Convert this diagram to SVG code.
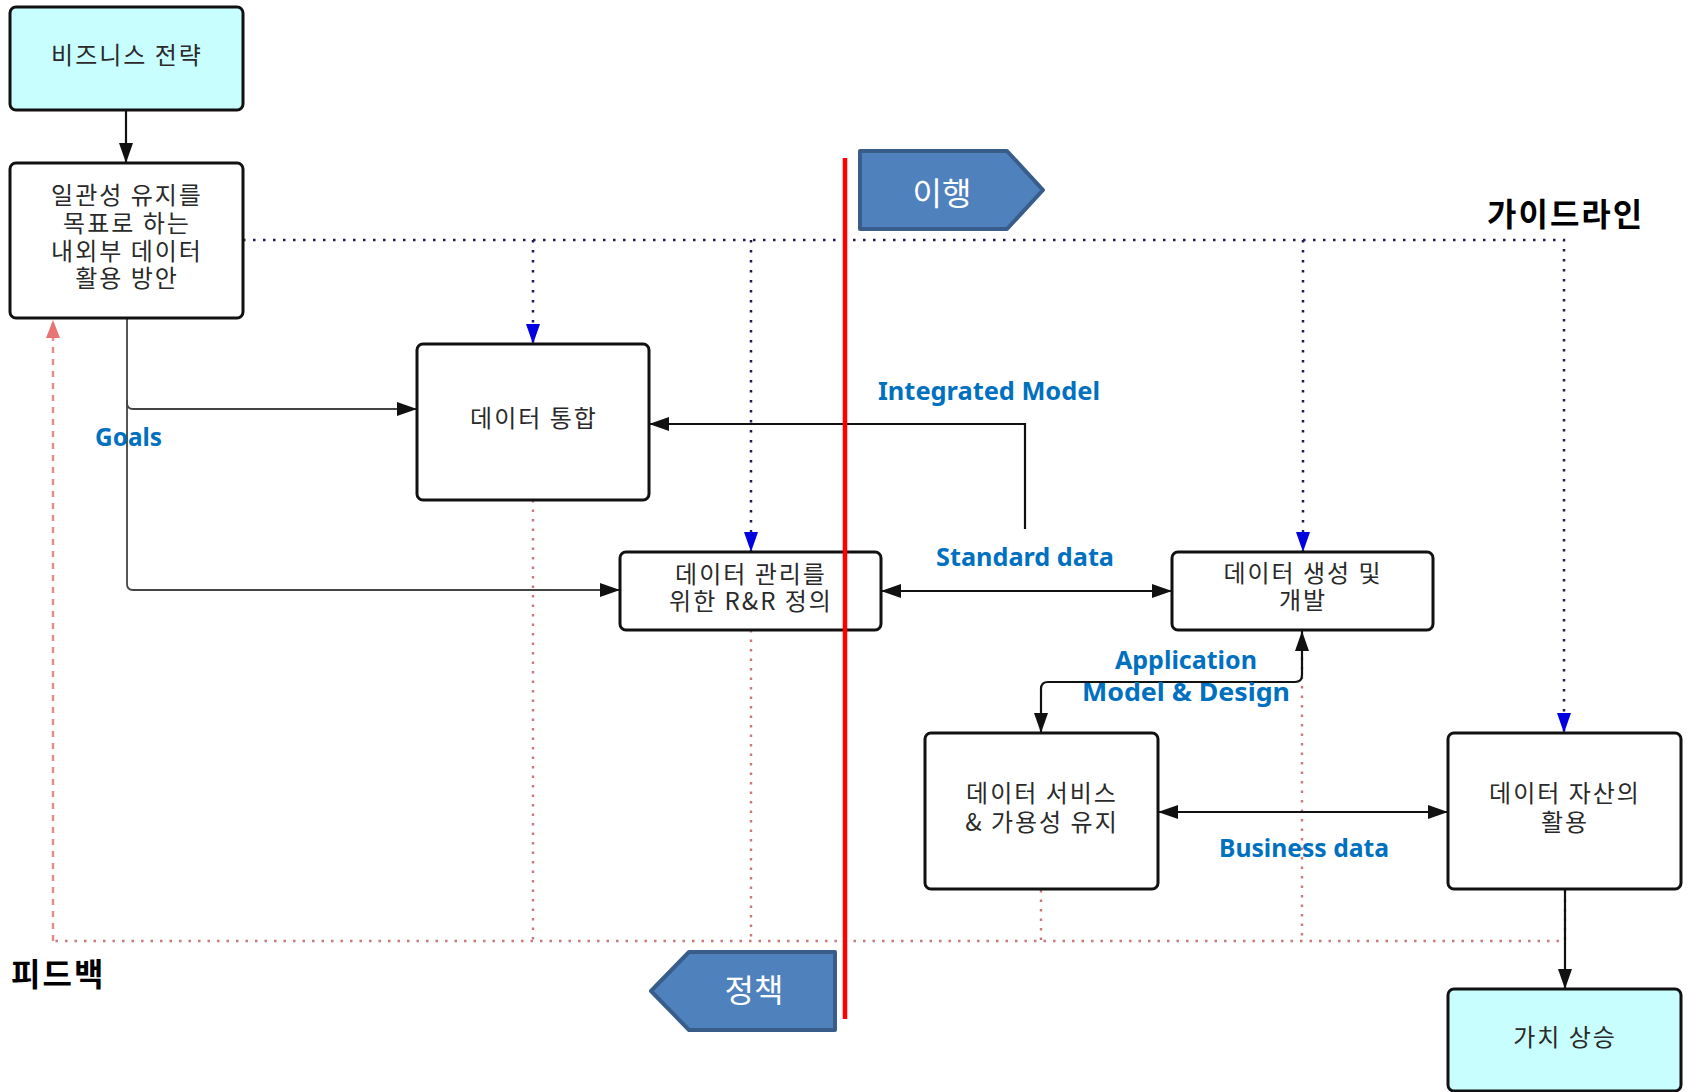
<svg xmlns="http://www.w3.org/2000/svg" width="1691" height="1092" viewBox="0 0 1691 1092">
  <style>
    .box { fill: #ffffff; stroke: #111111; stroke-width: 3; }
    .start { fill: #c8fefe; }
    .txt { font-family: "Noto Sans CJK KR", "Noto Sans", sans-serif; font-size: 24px; letter-spacing: 2px; fill: #2a2a2a; text-anchor: middle; }
    .lbl { font-family: "Noto Sans", "Open Sans", sans-serif; font-weight: bold; font-size: 25px; fill: #0070c0; }
    .big { font-family: "Noto Sans CJK KR", sans-serif; font-weight: bold; font-size: 32px; letter-spacing: 2px; fill: #000000; }
    .tag { fill: #4f81bd; stroke: #385d8a; stroke-width: 4; stroke-linejoin: round; }
    .tagtxt { font-family: "Noto Sans CJK KR", sans-serif; font-size: 32px; fill: #ffffff; text-anchor: middle; }
    .flow { fill: none; stroke: #111111; stroke-width: 2.2; }
    .goal { fill: none; stroke: #444444; stroke-width: 1.8; }
    .guide { fill: none; stroke: #1c1c55; stroke-width: 2.5; stroke-dasharray: 2.5 7.5; }
    .fb { fill: none; stroke: #c97a7a; stroke-width: 2.4; stroke-dasharray: 2.5 7; }
    .fbdash { fill: none; stroke: #e08a8a; stroke-width: 2.4; stroke-dasharray: 6 6; }
  </style>
  <defs>
    <marker id="arrow" markerUnits="userSpaceOnUse" markerWidth="20" markerHeight="14" refX="20" refY="7" orient="auto-start-reverse">
      <path d="M0,0 L20,7 L0,14 z" fill="#111111"/>
    </marker>
    <marker id="arrowBlue" markerUnits="userSpaceOnUse" markerWidth="20" markerHeight="14" refX="20" refY="7" orient="auto">
      <path d="M0,0 L20,7 L0,14 z" fill="#0000e0"/>
    </marker>
    <marker id="arrowPink" markerUnits="userSpaceOnUse" markerWidth="18" markerHeight="14" refX="18" refY="7" orient="auto">
      <path d="M0,0 L18,7 L0,14 z" fill="#e87474"/>
    </marker>
  </defs>

  <rect width="1691" height="1092" fill="#ffffff"/>

  <!-- connectors -->
  <g id="connectors">
    <!-- feedback (pink dotted) -->
    <path class="fb" d="M533,500 V941"/>
    <path class="fb" d="M751,630 V941"/>
    <path class="fb" d="M1041,890 V941"/>
    <path class="fb" d="M1302,648 V941"/>
    <path class="fb" d="M1565,890 V941 H53"/>
    <path class="fbdash" d="M53,941 V320" marker-end="url(#arrowPink)"/>

    <!-- guidelines (navy dotted) -->
    <path class="guide" d="M243,240 H1564 V733" marker-end="url(#arrowBlue)"/>
    <path class="guide" d="M533,240 V344" marker-end="url(#arrowBlue)"/>
    <path class="guide" d="M751,240 V552" marker-end="url(#arrowBlue)"/>
    <path class="guide" d="M1303,240 V552" marker-end="url(#arrowBlue)"/>

    <!-- strategy to goals -->
    <path class="flow" d="M126,110 V163" marker-end="url(#arrow)"/>

    <!-- goals -->
    <path class="goal" d="M127,318 V403 Q127,409 133,409 H417" marker-end="url(#arrow)"/>
    <path class="goal" d="M127,400 V584 Q127,590 133,590 H620" marker-end="url(#arrow)"/>

    <!-- integrated model -->
    <path class="flow" d="M1025,529 V424 H649" marker-end="url(#arrow)"/>

    <!-- standard data -->
    <path class="flow" d="M881,591 H1172" marker-start="url(#arrow)" marker-end="url(#arrow)"/>

    <!-- application model & design -->
    <path class="flow" d="M1041,733 V689 Q1041,682 1048,682 H1295 Q1302,682 1302,675 V631" marker-start="url(#arrow)" marker-end="url(#arrow)"/>

    <!-- business data -->
    <path class="flow" d="M1158,812 H1448" marker-start="url(#arrow)" marker-end="url(#arrow)"/>

    <!-- asset use to value -->
    <path class="flow" d="M1565,888 V989" marker-end="url(#arrow)"/>
  </g>

  <!-- nodes -->
  <g id="strategy">
    <rect class="box start" x="10" y="7" width="233" height="103" rx="6"/>
    <text class="txt" x="127" y="64">비즈니스 전략</text>
  </g>
  <g id="goals">
    <rect class="box" x="10" y="163" width="233" height="155" rx="6"/>
    <text class="txt" x="127" y="204">일관성 유지를</text>
    <text class="txt" x="127" y="232">목표로 하는</text>
    <text class="txt" x="127" y="260">내외부 데이터</text>
    <text class="txt" x="127" y="287">활용 방안</text>
  </g>
  <g id="integration">
    <rect class="box" x="417" y="344" width="232" height="156" rx="6"/>
    <text class="txt" x="534" y="427">데이터 통합</text>
  </g>
  <g id="roles">
    <rect class="box" x="620" y="552" width="261" height="78" rx="6"/>
    <text class="txt" x="751" y="583">데이터 관리를</text>
    <text class="txt" x="751" y="610">위한 R&amp;R 정의</text>
  </g>
  <g id="development">
    <rect class="box" x="1172" y="552" width="261" height="78" rx="6"/>
    <text class="txt" x="1303" y="582">데이터 생성 및</text>
    <text class="txt" x="1303" y="609">개발</text>
  </g>
  <g id="service">
    <rect class="box" x="925" y="733" width="233" height="156" rx="6"/>
    <text class="txt" x="1042" y="802">데이터 서비스</text>
    <text class="txt" x="1042" y="831">&amp; 가용성 유지</text>
  </g>
  <g id="assets">
    <rect class="box" x="1448" y="733" width="233" height="156" rx="6"/>
    <text class="txt" x="1565" y="802">데이터 자산의</text>
    <text class="txt" x="1565" y="831">활용</text>
  </g>
  <g id="value">
    <rect class="box start" x="1448" y="989" width="233" height="102" rx="6"/>
    <text class="txt" x="1565" y="1046">가치 상승</text>
  </g>

  <!-- phase tags -->
  <g id="migration">
    <polygon class="tag" points="860,151 1007,151 1043,190 1007,229 860,229"/>
    <text class="tagtxt" x="942" y="205">이행</text>
  </g>
  <g id="policy">
    <polygon class="tag" points="835,952 689,952 651,991 689,1030 835,1030"/>
    <text class="tagtxt" x="754" y="1002">정책</text>
  </g>

  <!-- divider -->
  <line x1="845" y1="158" x2="845" y2="1019" stroke="#ff0000" stroke-width="4.5"/>

  <!-- labels -->
  <g id="labels">
    <text class="lbl" x="878" y="400" textLength="222" lengthAdjust="spacingAndGlyphs">Integrated Model</text>
    <text class="lbl" x="95" y="446" textLength="67" lengthAdjust="spacingAndGlyphs">Goals</text>
    <text class="lbl" x="936" y="566" textLength="178" lengthAdjust="spacingAndGlyphs">Standard data</text>
    <text class="lbl" x="1115" y="669" textLength="142" lengthAdjust="spacingAndGlyphs">Application</text>
    <text class="lbl" x="1082" y="701" textLength="208" lengthAdjust="spacingAndGlyphs">Model &amp; Design</text>
    <text class="lbl" x="1219" y="857" textLength="170" lengthAdjust="spacingAndGlyphs">Business data</text>
    <text class="big" x="1487" y="226">가이드라인</text>
    <text class="big" x="11" y="986">피드백</text>
  </g>
</svg>
